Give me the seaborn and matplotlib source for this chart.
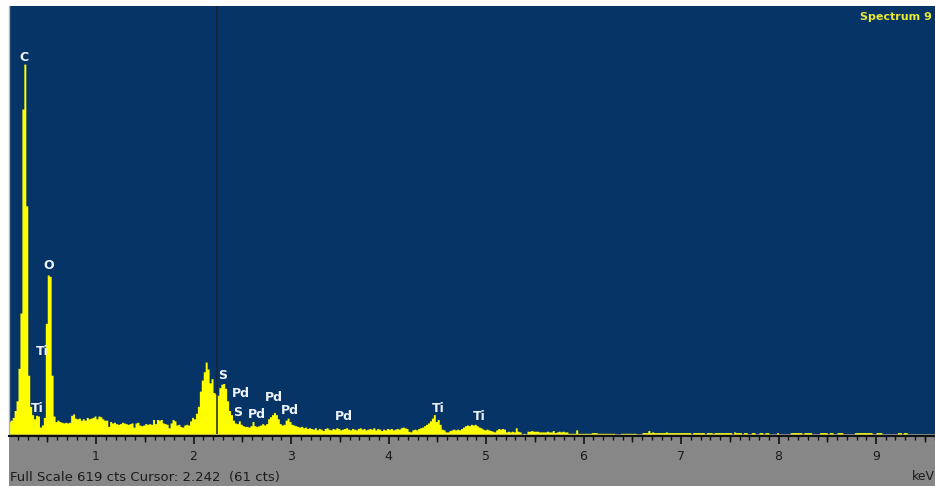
import numpy as np
import pandas as pd
import matplotlib
matplotlib.use("Agg")
import matplotlib.pyplot as plt
from matplotlib.patches import Rectangle
from matplotlib.ticker import MultipleLocator
import seaborn as sns

# ---------------- data ----------------
start_kev = 0.10
channel_kev = 0.02
counts = [
    18, 20, 24, 34, 48, 95, 175, 470, 535, 330,      # 0.10
    85, 40, 28, 22, 27, 26, 10, 13, 24, 160,         # 0.30
    230, 228, 85, 26, 18, 20, 18, 17, 16, 17,        # 0.50
    16, 17, 27, 29, 23, 22, 23, 20, 22, 20,          # 0.70
    24, 22, 23, 24, 26, 22, 26, 25, 22, 20,          # 0.90
    20, 11, 18, 16, 17, 15, 14, 15, 17, 16,          # 1.10
    15, 14, 15, 16, 10, 16, 17, 13, 12, 13,          # 1.30
    15, 14, 15, 14, 21, 15, 21, 20, 21, 16,          # 1.50
    15, 14, 9, 16, 21, 19, 13, 14, 11, 10,           # 1.70
    13, 14, 13, 19, 24, 22, 30, 40, 62, 78,          # 1.90
    90, 104, 94, 74, 80, 60, 58, 56, 67, 72,         # 2.10
    73, 66, 48, 34, 28, 20, 16, 15, 19, 14,          # 2.30
    12, 11, 11, 10, 12, 18, 12, 11, 12, 13,          # 2.50
    15, 13, 15, 22, 25, 28, 31, 28, 22, 15,          # 2.70
    13, 14, 20, 23, 18, 14, 13, 12, 11, 10,          # 2.90
    11, 9, 10, 8, 9, 8, 7, 9, 6, 8,                  # 3.10
    7, 5, 8, 9, 7, 6, 8, 7, 9, 8,                    # 3.30
    6, 7, 8, 9, 7, 6, 8, 7, 6, 8,                    # 3.50
    9, 7, 8, 6, 7, 8, 7, 9, 6, 8,                    # 3.70
    7, 5, 7, 6, 8, 7, 8, 6, 7, 8,                    # 3.90
    7, 9, 10, 9, 8, 4, 3, 6, 7, 6,                   # 4.10
    8, 9, 10, 12, 14, 16, 19, 23, 28, 18,            # 4.30
    21, 14, 7, 6, 3, 3, 5, 6, 7, 6,                  # 4.50
    7, 6, 8, 10, 12, 13, 12, 14, 13, 14,             # 4.70
    12, 10, 9, 7, 6, 7, 6, 5, 4, 3,                  # 4.90
    6, 8, 7, 8, 7, 3, 4, 3, 4, 3,                    # 5.10
    9, 4, 3, 0, 1, 0, 4, 4, 5, 4,                    # 5.30
    4, 4, 3, 3, 3, 3, 4, 3, 3, 5,                    # 5.50
    2, 3, 4, 3, 4, 3, 3, 1, 1, 1,                    # 5.70
    1, 6, 1, 1, 1, 1, 1, 1, 1, 2,                    # 5.90
    2, 2, 1, 1, 1, 1, 1, 1, 1, 1,                    # 6.10
    1, 0, 0, 0, 1, 1, 1, 1, 1, 1,                    # 6.30
    1, 1, 0, 0, 0, 2, 2, 2, 5, 2,                    # 6.50
    3, 2, 2, 2, 2, 2, 2, 3, 2, 2,                    # 6.70
    2, 2, 2, 2, 2, 2, 2, 2, 2, 2,                    # 6.90
    0, 2, 2, 2, 2, 2, 2, 0, 2, 2,                    # 7.10
    2, 1, 2, 2, 2, 2, 2, 2, 2, 2,                    # 7.30
    2, 0, 3, 2, 2, 2, 0, 2, 2, 0,                    # 7.50
    0, 2, 2, 0, 0, 2, 2, 0, 2, 2,                    # 7.70
    0, 0, 0, 0, 2, 0, 0, 0, 0, 0,                    # 7.90
    0, 2, 2, 2, 2, 2, 2, 0, 2, 2,                    # 8.10
    2, 2, 0, 0, 0, 0, 2, 2, 2, 2,                    # 8.30
    0, 2, 2, 0, 0, 2, 2, 2, 0, 0,                    # 8.50
    0, 0, 0, 0, 2, 2, 2, 2, 2, 2,                    # 8.70
    2, 2, 2, 0, 0, 2, 2, 2, 0, 0,                    # 8.90
    0, 0, 0, 0, 0, 0, 2, 2, 0, 2,                    # 9.10
    2, 0, 0, 0, 0, 0, 0, 0, 0, 0,                    # 9.30
    0, 0, 0, 0, 0,                                   # 9.50
]

peak_labels = ["C", "O", "Ti", "Ti", "S", "Pd", "S", "Pd", "Pd", "Pd", "Pd", "Ti", "Ti"]
peak_kev = [0.262, 0.518, 0.446, 0.395, 2.303, 2.487, 2.456, 2.651, 2.826, 2.990, 3.544, 4.508, 4.928]
peak_label_cts = [545, 243, 118.6, 37.6, 85.3, 57.9, 31.8, 27.5, 52.1, 34.7, 24.6, 37.6, 26.0]

full_scale = 619
cursor_kev = 2.242
cursor_cts = 61
spectrum_name = "Spectrum 9"
x_ticks = [1, 2, 3, 4, 5, 6, 7, 8, 9]
half_ticks = [0.5, 1.5, 2.5, 3.5, 4.5, 5.5, 6.5, 7.5, 8.5, 9.5]

# ---------------- plot ----------------
n = len(counts)
centers = start_kev + channel_kev * (np.arange(n) + 0.5)
df = pd.DataFrame({"keV": centers, "cts": np.asarray(counts, dtype=float)})

sns.set_theme(style="white")
plt.rcParams["font.family"] = ["DejaVu Sans"]

W, H = 935, 486
fig = plt.figure(figsize=(W / 100, H / 100), dpi=100, facecolor="white")
ax_left, ax_right, ax_top, ax_bot = 9, 935, 6, 434
ax = fig.add_axes([ax_left / W, (H - ax_bot) / H, (ax_right - ax_left) / W, (ax_bot - ax_top) / H])
ax.set_facecolor("#073466")

# grey status strip
fig.patches.append(Rectangle((ax_left / W, 0), 1, (H - ax_bot) / H, transform=fig.transFigure,
                             facecolor="#878787", edgecolor="none", zorder=-1))

sns.histplot(data=df, x="keV", weights="cts", binwidth=channel_kev,
             binrange=(start_kev, start_kev + channel_kev * n), element="step", fill=True,
             color="#ffff00", alpha=1, linewidth=0, ax=ax)

ax.axvline(cursor_kev, color="#1a2632", lw=1.1, zorder=5)

for lab, e, c in zip(peak_labels, peak_kev, peak_label_cts):
    ax.text(e, c, lab, color="#eef3fa", fontsize=9, fontweight="bold",
            ha="center", va="center", zorder=6)

ax.set_xlim((ax_left + 1.5) / 97.5, (ax_right + 1.5) / 97.5)
ax.set_ylim(0, full_scale)
ax.set_xlabel("")
ax.set_ylabel("")
ax.set_yticks([])
ax.set_xticks(x_ticks)
ax.set_xticklabels([str(t) for t in x_ticks])
ax.xaxis.set_minor_locator(MultipleLocator(0.1))
ax.tick_params(axis="x", which="major", direction="out", length=6, width=1.2, color="#111111",
               labelsize=9, labelcolor="#1c1c1c", pad=4, bottom=True)
ax.tick_params(axis="x", which="minor", direction="out", length=3, width=1, color="#111111", bottom=True)
ax.grid(False)

for s in ["top", "right"]:
    ax.spines[s].set_visible(False)
ax.spines["left"].set_color("#b4b4b4")
ax.spines["left"].set_linewidth(1)
ax.spines["bottom"].set_color("#111111")
ax.spines["bottom"].set_linewidth(1.5)
ax.spines["bottom"].set_position(("outward", 1.2))

# half-keV ticks (slightly longer than the minor ones)
sec = ax.secondary_xaxis("bottom")
sec.spines["bottom"].set_position(("outward", 1.2))
sec.spines["bottom"].set_visible(False)
sec.set_xticks(half_ticks)
sec.tick_params(axis="x", which="major", direction="out", length=4.5, width=1, color="#111111",
                labelbottom=False)
sec.xaxis.set_minor_locator(matplotlib.ticker.NullLocator())

fig.text(10 / W, 1 - 477 / H, f"Full Scale {full_scale} cts Cursor: {cursor_kev:.3f}  ({cursor_cts} cts)",
         fontsize=9.5, color="#1c1c1c", ha="left", va="center")
fig.text(935 / W, 1 - 476 / H, "keV", fontsize=9, color="#1c1c1c", ha="right", va="center")
fig.text(932 / W, 1 - 17 / H, spectrum_name, fontsize=8, fontweight="bold", color="#e8e830",
         ha="right", va="center")

fig.savefig("out.png", dpi=100, facecolor="white")
